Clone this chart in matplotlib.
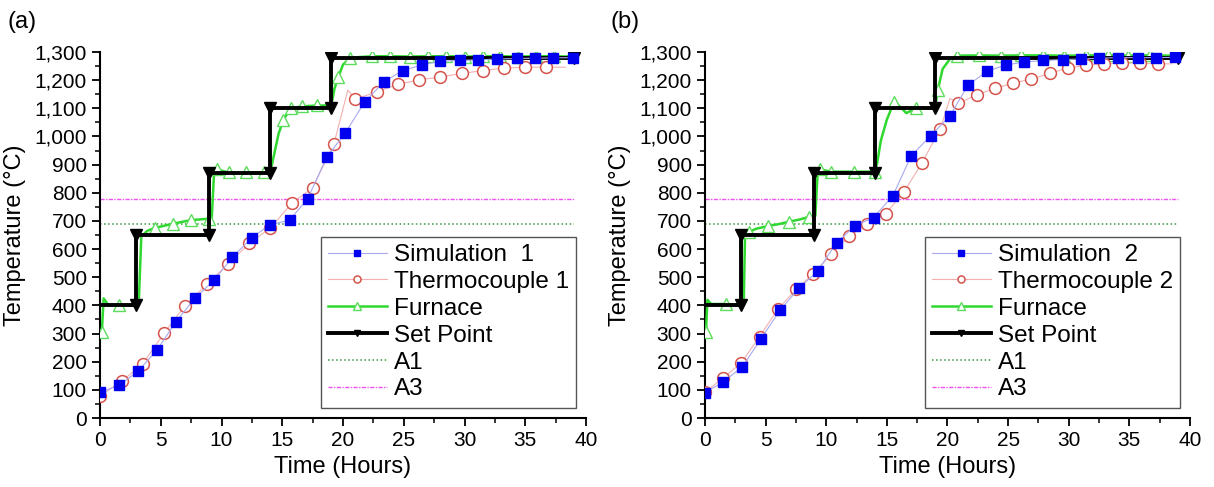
import matplotlib
matplotlib.use("Agg")
import matplotlib.pyplot as plt
from matplotlib.ticker import MultipleLocator, FuncFormatter

plt.rcParams['font.family'] = ['Liberation Sans', 'DejaVu Sans']

# ---- panel (a) data ----
sim1_t = [0, 1.6, 3.15, 4.7, 6.25, 7.8, 9.4, 10.9, 12.5, 14.0, 15.6, 17.1, 18.65, 20.2, 21.8,
          23.4, 24.9, 26.5, 28.0, 29.6, 31.1, 32.7, 34.3, 35.8, 37.3, 38.9]
sim1_T = [91, 117, 167, 242, 342, 425, 490, 571, 641, 686, 703, 779, 926, 1013, 1124,
          1195, 1234, 1254, 1267, 1270, 1272, 1275, 1277, 1278, 1279, 1280]

tc1_t = [0, 1.8, 3.5, 5.27, 7.0, 8.8, 10.5, 12.3, 14.0, 15.8, 17.5, 19.25, 20.4, 21.0,
         22.8, 24.5, 26.25, 28.0, 29.8, 31.5, 33.25, 35.0, 36.7, 38.3]
tc1_T = [78, 131, 191, 301, 399, 475, 546, 621, 674, 763, 818, 973, 1165, 1132,
         1159, 1185, 1201, 1211, 1224, 1234, 1243, 1246, 1246, 1246]
tc1_marks = [0, 1, 2, 3, 4, 5, 6, 7, 8, 9, 10, 11, 13, 14, 15, 16, 17, 18, 19, 20, 21, 22]

fur1_t = [0, 0.15, 0.3, 0.7, 1.6, 3.0, 3.2, 3.4, 3.9, 4.5, 6.0, 7.5, 9.0, 9.2, 9.4, 9.6,
          10.6, 12.0, 13.5, 14.0, 14.3, 14.7, 15.1, 15.7, 16.6, 17.9, 18.9, 19.1, 19.3,
          19.6, 20.0, 20.6, 22.4, 23.9, 25.5, 27.0, 28.5, 30.0, 31.5, 32.9, 34.4, 35.9,
          37.4, 38.5]
fur1_T = [290, 305, 425, 400, 401, 400, 420, 645, 665, 675, 690, 703, 708, 712, 880, 883,
          872, 872, 872, 870, 930, 1010, 1060, 1100, 1107, 1110, 1110, 1125, 1170,
          1210, 1255, 1280, 1285, 1285, 1284, 1285, 1285, 1284, 1285, 1285, 1284, 1285,
          1285, 1284]
fur1_marks = [1, 4, 9, 10, 11, 12, 15, 16, 17, 18, 22, 23, 24, 25, 29, 31,
              32, 33, 34, 35, 36, 37, 38, 39, 40, 41, 42]

# ---- panel (b) data ----
sim2_t = [0, 1.5, 3.08, 4.6, 6.2, 7.75, 9.3, 10.85, 12.4, 13.9, 15.5, 17.0, 18.6, 20.2,
          21.7, 23.25, 24.8, 26.3, 27.9, 29.5, 31.0, 32.5, 34.1, 35.7, 37.2, 38.8]
sim2_T = [90, 128, 182, 280, 384, 461, 522, 623, 683, 712, 790, 931, 1002, 1073,
          1183, 1231, 1254, 1264, 1270, 1273, 1275, 1278, 1280, 1280, 1280, 1281]

tc2_t = [0, 1.5, 2.96, 4.5, 6.0, 7.5, 8.9, 10.4, 11.9, 13.4, 14.9, 16.4, 17.9, 19.4, 20.2,
         20.9, 22.4, 23.9, 25.4, 26.9, 28.45, 29.9, 31.4, 32.9, 34.4, 35.9, 37.4, 38.5]
tc2_T = [91, 143, 194, 289, 386, 457, 511, 581, 647, 689, 726, 802, 907, 1026, 1135,
         1118, 1147, 1171, 1189, 1204, 1224, 1243, 1253, 1258, 1261, 1261, 1258, 1258]
tc2_marks = [0, 1, 2, 3, 4, 5, 6, 7, 8, 9, 10, 11, 12, 13, 15, 16, 17, 18, 19, 20,
             21, 22, 23, 24, 25, 26]

fur2_t = [0, 0.08, 0.2, 0.5, 1.7, 3.0, 3.2, 3.3, 3.6, 4.2, 5.2, 6.0, 6.9, 7.8, 8.6, 9.1,
          9.3, 9.5, 10.4, 12.3, 14.0, 14.2, 14.5, 15.0, 15.6, 16.1, 16.6, 17.4, 18.9,
          19.0, 19.2, 19.6, 20.2, 20.8, 22.6, 24.4, 26.1, 27.9, 29.6, 31.4, 33.2, 34.9,
          36.7, 38.5]
fur2_T = [290, 307, 420, 405, 405, 400, 420, 645, 660, 672, 682, 688, 697, 705, 715, 718,
          880, 883, 875, 875, 875, 905, 985, 1060, 1124, 1105, 1083, 1100, 1100,
          1110, 1165, 1240, 1275, 1287, 1288, 1287, 1288, 1288, 1287, 1288, 1288, 1287,
          1288, 1287]
fur2_marks = [1, 4, 8, 10, 12, 14, 17, 18, 19, 20, 24, 27, 30, 33,
              34, 35, 36, 37, 38, 39, 40, 41, 42]

# set point and transformation temperatures (same in both runs)
sp_t = [0, 3, 3, 9, 9, 14, 14, 19, 19, 39]
sp_T = [400, 400, 650, 650, 870, 870, 1100, 1100, 1280, 1280]
A1 = 688
A3 = 778
a_span = [0, 39]

panels = [
    ('(a)', 'Simulation  1', 'Thermocouple 1', sim1_t, sim1_T, tc1_t, tc1_T, tc1_marks,
     fur1_t, fur1_T, fur1_marks),
    ('(b)', 'Simulation  2', 'Thermocouple 2', sim2_t, sim2_T, tc2_t, tc2_T, tc2_marks,
     fur2_t, fur2_T, fur2_marks),
]

fig = plt.figure(figsize=(12.14, 4.87), dpi=100)
ax_boxes = [[100 / 1214, 1 - 418 / 487, 486 / 1214, 366 / 487],
            [705 / 1214, 1 - 418 / 487, 485 / 1214, 366 / 487]]
label_x = [0.006, 0.503]

for i, p in enumerate(panels):
    tag, simlab, tclab, st, sT, tt, tT, tmarks, ft, fT, fmarks = p
    ax = fig.add_axes(ax_boxes[i])

    ax.plot(a_span, [A1, A1], color='#3a9a3a', ls=':', lw=1.1, label='A1', zorder=1)
    ax.plot(a_span, [A3, A3], color='#f050f0', lw=1.0, dashes=(3, 1, 1, 1), label='A3', zorder=1)
    ax.plot(ft, fT, color='#2fd82f', lw=1.8, marker='^', ms=9, mfc='white',
            mec='#5cdc5c', mew=1.0, markevery=fmarks, label='Furnace', zorder=3)
    ax.plot(sp_t, sp_T, color='black', lw=2.8, marker='v', ms=8,
            markevery=list(range(1, len(sp_t))), label='Set Point', zorder=4)
    ax.plot(tt, tT, color='#f4b0b0', lw=0.8, marker='o', ms=8.5, mfc='white',
            mec='#d5544c', mew=1.1, markevery=tmarks, label=tclab, zorder=5)
    ax.plot(st, sT, color='#a8a8f0', lw=0.8, marker='s', ms=6.5, mfc='#0000ee',
            mec='#0000ee', label=simlab, zorder=6)

    ax.set_xlim(0, 40)
    ax.set_ylim(0, 1300)
    ax.xaxis.set_major_locator(MultipleLocator(5))
    ax.xaxis.set_minor_locator(MultipleLocator(2.5))
    ax.yaxis.set_major_locator(MultipleLocator(100))
    ax.yaxis.set_minor_locator(MultipleLocator(50))
    ax.yaxis.set_major_formatter(FuncFormatter(lambda v, pos: f'{int(v):,}'))
    ax.tick_params(which='major', direction='out', length=6, width=1.3, labelsize=15)
    ax.tick_params(which='minor', direction='out', length=3.5, width=1.1)
    for s in ['top', 'right']:
        ax.spines[s].set_visible(False)
    for s in ['left', 'bottom']:
        ax.spines[s].set_linewidth(1.5)
    ax.set_xlabel('Time (Hours)', fontsize=17, labelpad=4)
    ax.set_ylabel('Temperature (°C)', fontsize=17, labelpad=6)

    h, l = ax.get_legend_handles_labels()
    order = [5, 4, 2, 3, 0, 1]
    leg = ax.legend([h[k] for k in order], [l[k] for k in order], loc='lower right',
                    bbox_to_anchor=(0.98, 0.028), fontsize=17.5, frameon=True,
                    fancybox=False, edgecolor='#555555', framealpha=1,
                    handlelength=2.4, handletextpad=0.3, labelspacing=0.2,
                    borderpad=0.3, borderaxespad=0, markerscale=0.6)
    leg.get_frame().set_linewidth(1.0)

    fig.text(label_x[i], 0.955, tag, fontsize=17, va='center', ha='left')

fig.savefig('out.png', dpi=100)
